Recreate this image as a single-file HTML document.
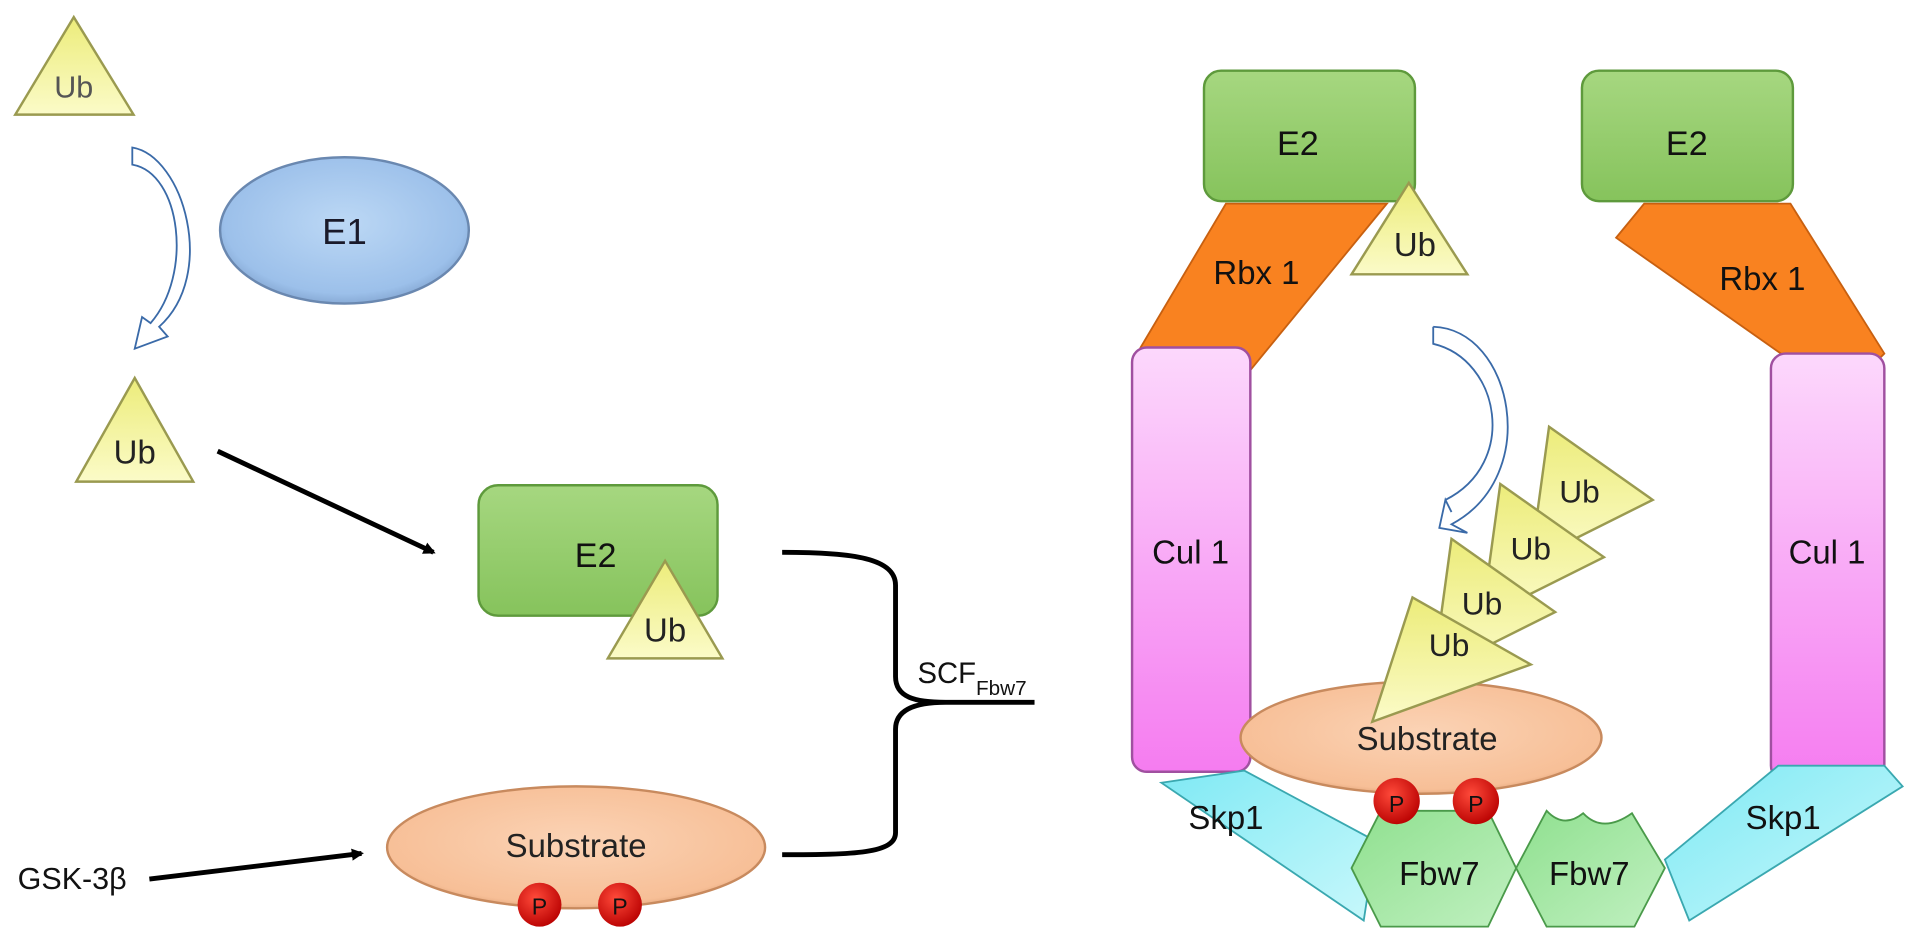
<!DOCTYPE html>
<html><head><meta charset="utf-8"><style>html,body{margin:0;padding:0;background:#fff}svg{display:block}</style></head>
<body>
<svg width="1913" height="951" viewBox="0 0 1568 780" xmlns="http://www.w3.org/2000/svg" font-family="Liberation Sans, sans-serif">
<defs>
<linearGradient id="ub" x1="0" y1="0" x2="0" y2="1"><stop offset="0" stop-color="#ecec7a"/><stop offset="1" stop-color="#fbfbc8"/></linearGradient>
<radialGradient id="e1" cx="0.5" cy="0.45" r="0.6"><stop offset="0" stop-color="#bcd8f5"/><stop offset="0.8" stop-color="#9cc0ea"/><stop offset="1" stop-color="#7a9cc8"/></radialGradient>
<linearGradient id="e2" x1="0" y1="0" x2="0" y2="1"><stop offset="0" stop-color="#a6d780"/><stop offset="1" stop-color="#86c35c"/></linearGradient>
<radialGradient id="sub" cx="0.5" cy="0.45" r="0.6"><stop offset="0" stop-color="#fbd3b5"/><stop offset="0.85" stop-color="#f7bf97"/><stop offset="1" stop-color="#d8996e"/></radialGradient>
<radialGradient id="p" cx="0.4" cy="0.35" r="0.7"><stop offset="0" stop-color="#ff4a3a"/><stop offset="1" stop-color="#b80000"/></radialGradient>
<linearGradient id="cul" x1="0" y1="0" x2="0" y2="1"><stop offset="0" stop-color="#fcd8fc"/><stop offset="1" stop-color="#f57cf0"/></linearGradient>
<linearGradient id="skp" x1="0" y1="0" x2="1" y2="1"><stop offset="0" stop-color="#7fe9f4"/><stop offset="1" stop-color="#c8f8fb"/></linearGradient>
<linearGradient id="fbw" x1="0" y1="0" x2="1" y2="1"><stop offset="0" stop-color="#8fe08f"/><stop offset="1" stop-color="#c0f0c0"/></linearGradient>
<marker id="ah" markerWidth="10" markerHeight="10" refX="8" refY="5" orient="auto" markerUnits="userSpaceOnUse"><path d="M0,0 L10,5 L0,10 Z" fill="#000"/></marker>
</defs>

<!-- Left -->
<polygon points="60,14 12,94 109,94" fill="url(#ub)" stroke="#9a9a50" stroke-width="2"/>
<text x="60" y="80" font-size="25" text-anchor="middle" fill="#555">Ub</text>

<path d="M108,121 C150,128 178,225 130,268 L137,276 L110,286 L116,260 L123,265 C158,225 148,142 108,135 Z" fill="#fff" stroke="#3a6aa8" stroke-width="1.5"/>

<ellipse cx="282" cy="189" rx="102" ry="60" fill="url(#e1)" stroke="#6a88b0" stroke-width="2"/>
<text x="282" y="200" font-size="30" text-anchor="middle" fill="#1a1a2a">E1</text>

<polygon points="110,310 62,395 158,395" fill="url(#ub)" stroke="#9a9a50" stroke-width="2"/>
<text x="110" y="380" font-size="27" text-anchor="middle" fill="#222">Ub</text>

<line x1="178" y1="370" x2="355" y2="453" stroke="#000" stroke-width="4" marker-end="url(#ah)"/>

<rect x="392" y="398" width="196" height="107" rx="16" fill="url(#e2)" stroke="#5e9a3c" stroke-width="2"/>
<text x="488" y="465" font-size="28" text-anchor="middle" fill="#111">E2</text>
<polygon points="545,460 498,540 592,540" fill="url(#ub)" stroke="#9a9a50" stroke-width="2"/>
<text x="545" y="526" font-size="27" text-anchor="middle" fill="#222">Ub</text>

<path d="M641,453 C700,453 734,458 734,480 L734,555 C734,572 750,576 775,576 L848,576 M775,576 C750,576 734,582 734,598 L734,683 C734,700 700,701 641,701" fill="none" stroke="#000" stroke-width="4"/>
<text x="752" y="560" font-size="24" fill="#111">SCF<tspan font-size="17" dy="10">Fbw7</tspan></text>

<ellipse cx="472" cy="695" rx="155" ry="50" fill="url(#sub)" stroke="#c88a5e" stroke-width="2"/>
<text x="472" y="703" font-size="27" text-anchor="middle" fill="#222">Substrate</text>
<circle cx="442" cy="742" r="18" fill="url(#p)"/><text x="442" y="750" font-size="19" text-anchor="middle" fill="#111">P</text>
<circle cx="508" cy="742" r="18" fill="url(#p)"/><text x="508" y="750" font-size="19" text-anchor="middle" fill="#111">P</text>

<text x="14" y="729" font-size="25" fill="#111">GSK-3β</text>
<line x1="122" y1="721" x2="296" y2="700" stroke="#000" stroke-width="4" marker-end="url(#ah)"/>

<!-- Right -->
<rect x="1297" y="58" width="173" height="107" rx="14" fill="url(#e2)" stroke="#5e9a3c" stroke-width="2"/>
<text x="1383" y="127" font-size="28" text-anchor="middle" fill="#111">E2</text>
<polygon points="1325,195 1348,167 1468,167 1545,290 1510,325" fill="#f98220" stroke="#c86010" stroke-width="1.5"/>
<text x="1445" y="238" font-size="27" text-anchor="middle" fill="#111">Rbx 1</text>

<rect x="1452" y="290" width="93" height="350" rx="12" fill="url(#cul)" stroke="#a050a0" stroke-width="2"/>
<text x="1498" y="462" font-size="27" text-anchor="middle" fill="#111">Cul 1</text>

<polygon points="1365,705 1458,628 1545,628 1560,645 1385,755" fill="url(#skp)" stroke="#3aa8b0" stroke-width="1.5"/>
<text x="1462" y="680" font-size="27" text-anchor="middle" fill="#111">Skp1</text>

<rect x="987" y="58" width="173" height="107" rx="14" fill="url(#e2)" stroke="#5e9a3c" stroke-width="2"/>
<text x="1064" y="127" font-size="28" text-anchor="middle" fill="#111">E2</text>
<polygon points="1005,167 1137,167 1005,328 935,285" fill="#f98220" stroke="#c86010" stroke-width="1.5"/>
<text x="1030" y="233" font-size="27" text-anchor="middle" fill="#111">Rbx 1</text>
<polygon points="1155,150 1108,225 1203,225" fill="url(#ub)" stroke="#9a9a50" stroke-width="2"/>
<text x="1160" y="210" font-size="27" text-anchor="middle" fill="#222">Ub</text>

<rect x="928" y="285" width="97" height="348" rx="12" fill="url(#cul)" stroke="#a050a0" stroke-width="2"/>
<text x="976" y="462" font-size="27" text-anchor="middle" fill="#111">Cul 1</text>

<polygon points="952,642 1020,632 1128,690 1118,755" fill="url(#skp)" stroke="#3aa8b0" stroke-width="1.5"/>
<text x="1005" y="680" font-size="27" text-anchor="middle" fill="#111">Skp1</text>

<path d="M1175,268 C1240,270 1265,390 1190,430 L1203,437 L1180,433 L1185,410 L1190,420 M1175,268 L1175,282 C1230,295 1245,380 1185,410" fill="none" stroke="#3a6aa8" stroke-width="1.5"/>

<ellipse cx="1165" cy="605" rx="148" ry="46" fill="url(#sub)" stroke="#c88a5e" stroke-width="2"/>

<!-- Ub chain -->
<g stroke="#9a9a50" stroke-width="2" fill="url(#ub)">
<polygon points="1270,350 1355,410 1255,460"/>
<polygon points="1230,397 1315,457 1215,507"/>
<polygon points="1190,442 1275,502 1175,552"/>
<polygon points="1158,490 1255,545 1125,592"/>
</g>
<g font-size="26" text-anchor="middle" fill="#222">
<text x="1295" y="412">Ub</text>
<text x="1255" y="459">Ub</text>
<text x="1215" y="504">Ub</text>
<text x="1188" y="538">Ub</text>
</g>
<text x="1170" y="615" font-size="27" text-anchor="middle" fill="#222">Substrate</text>

<polygon points="1108,712 1132,665 1220,665 1243,712 1220,760 1132,760" fill="url(#fbw)" stroke="#4a9a4a" stroke-width="1.5"/>
<text x="1180" y="726" font-size="27" text-anchor="middle" fill="#111">Fbw7</text>
<path d="M1243,712 L1268,665 Q1282,680 1298,667 Q1314,684 1338,667 L1365,712 L1340,760 L1268,760 Z" fill="url(#fbw)" stroke="#4a9a4a" stroke-width="1.5"/>
<text x="1303" y="726" font-size="27" text-anchor="middle" fill="#111">Fbw7</text>

<circle cx="1145" cy="657" r="19" fill="url(#p)"/><text x="1145" y="666" font-size="19" text-anchor="middle" fill="#111">P</text>
<circle cx="1210" cy="657" r="19" fill="url(#p)"/><text x="1210" y="666" font-size="19" text-anchor="middle" fill="#111">P</text>
</svg>
</body></html>
